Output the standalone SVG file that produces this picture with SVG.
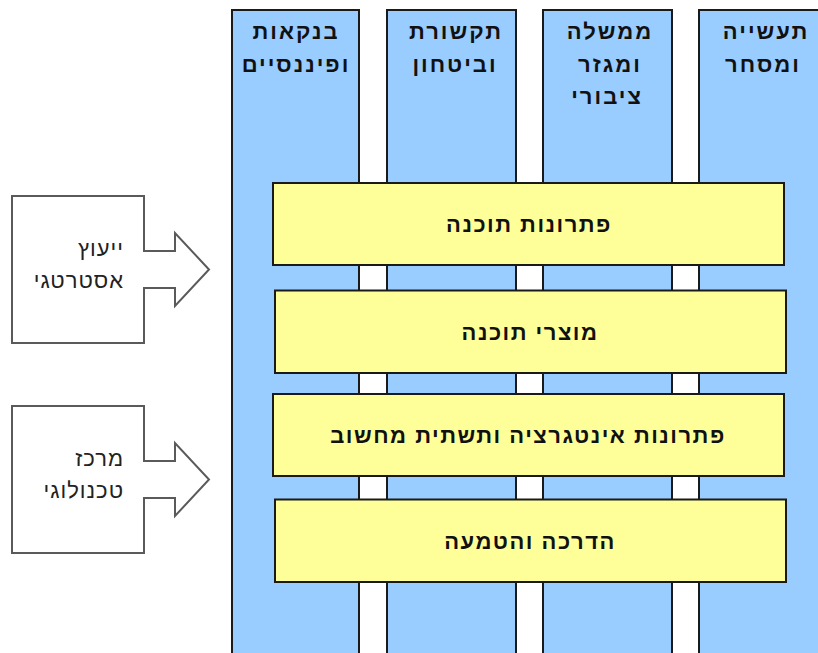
<svg xmlns="http://www.w3.org/2000/svg" width="818" height="653" viewBox="0 0 818 653">
  <style>
    .col { fill: #99ccff; stroke: #1a1a1a; stroke-width: 2; }
    .band { fill: #ffff99; stroke: #1a1a1a; stroke-width: 2; }
    .src { fill: #ffffff; stroke: #5a5a5a; stroke-width: 2; stroke-linejoin: miter; }
    .hdr { font-family: "Liberation Sans", "DejaVu Sans", sans-serif; font-size: 22px; font-weight: bold; fill: #111; letter-spacing: 2px; text-anchor: middle; }
    .lbl { font-family: "Liberation Sans", "DejaVu Sans", sans-serif; font-size: 22px; font-weight: bold; fill: #111; letter-spacing: 1.5px; text-anchor: middle; }
    .src-t { font-family: "Liberation Sans", "DejaVu Sans", sans-serif; font-size: 22px; fill: #222; letter-spacing: 1px; text-anchor: end; }
  </style>
  <rect width="818" height="653" fill="#ffffff"/>

  <!-- sector columns -->
  <g id="col-banking">
    <rect class="col" x="232" y="10" width="127" height="660"/>
    <text class="hdr" x="296" y="39">בנקאות</text>
    <text class="hdr" x="296" y="72">ופיננסיים</text>
  </g>
  <g id="col-telecom">
    <rect class="col" x="387" y="10" width="129" height="660"/>
    <text class="hdr" x="456" y="39">תקשורת</text>
    <text class="hdr" x="455" y="72">וביטחון</text>
  </g>
  <g id="col-government">
    <rect class="col" x="543" y="10" width="129" height="660"/>
    <text class="hdr" x="610" y="39">ממשלה</text>
    <text class="hdr" x="610" y="72">ומגזר</text>
    <text class="hdr" x="607" y="104">ציבורי</text>
  </g>
  <g id="col-industry">
    <rect class="col" x="699" y="10" width="130" height="660"/>
    <text class="hdr" x="766" y="39">תעשייה</text>
    <text class="hdr" x="763" y="72">ומסחר</text>
  </g>

  <!-- service bands across the sectors -->
  <g id="band-software-solutions">
    <rect class="band" x="273" y="183" width="511" height="82"/>
    <text class="lbl" x="529" y="232">פתרונות תוכנה</text>
  </g>
  <g id="band-software-products">
    <rect class="band" x="275" y="290.5" width="511" height="82.5"/>
    <text class="lbl" x="530" y="340">מוצרי תוכנה</text>
  </g>
  <g id="band-integration">
    <rect class="band" x="273" y="394" width="511" height="82"/>
    <text class="lbl" x="528" y="443">פתרונות אינטגרציה ותשתית מחשוב</text>
  </g>
  <g id="band-training">
    <rect class="band" x="275" y="499.5" width="511" height="82.5"/>
    <text class="lbl" x="530" y="549">הדרכה והטמעה</text>
  </g>

  <!-- input sources pointing into the matrix -->
  <g id="connectors">
    <g id="src-strategy">
      <path class="src" d="M12,196 H144 V251 H175 V233 L209,269.5 L175,306 V288 H144 V343 H12 Z"/>
      <text class="src-t" x="124" y="256">ייעוץ</text>
      <text class="src-t" x="124" y="288">אסטרטגי</text>
    </g>
    <g id="src-technology">
      <path class="src" d="M12,406 H144 V461 H175 V443 L209,479.5 L175,516 V498 H144 V553 H12 Z"/>
      <text class="src-t" x="124" y="466">מרכז</text>
      <text class="src-t" x="124" y="498">טכנולוגי</text>
    </g>
  </g>
</svg>
